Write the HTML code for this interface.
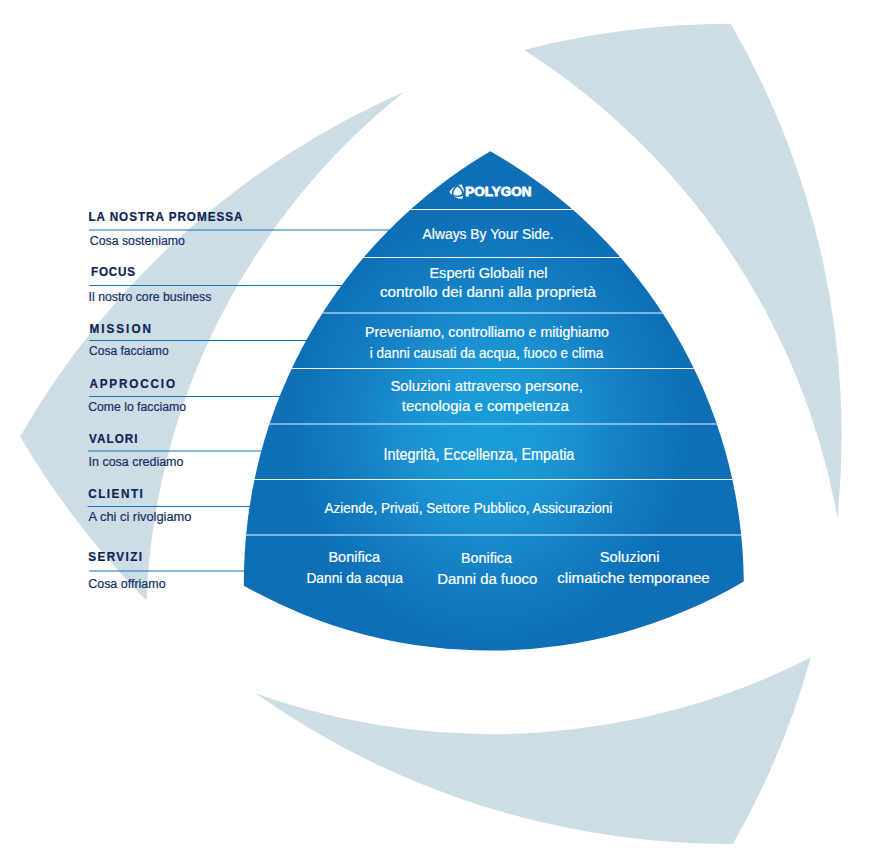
<!DOCTYPE html>
<html><head><meta charset="utf-8">
<style>
html,body{margin:0;padding:0;background:#fff;}
body{width:872px;height:861px;overflow:hidden;position:relative;}
svg{position:absolute;left:0;top:0;}
text{font-family:"Liberation Sans",sans-serif;}
.h{font-weight:bold;fill:#0d2455;stroke:#0d2455;stroke-width:0.25px;font-size:13px;}
.s{fill:#132d65;stroke:#132d65;stroke-width:0.2px;font-size:12.5px;}
.w{fill:#fff;stroke:#fff;stroke-width:0.2px;font-size:15.2px;}
.p{fill:#fff;font-size:12.6px;font-weight:bold;stroke:#fff;stroke-width:0.8px;}
</style></head>
<body>
<svg width="872" height="861" viewBox="0 0 872 861">
<defs>
<radialGradient id="bg" gradientUnits="userSpaceOnUse" cx="490" cy="428" r="200" gradientTransform="translate(490 428) scale(1 1.08) translate(-490 -428)">
<stop offset="0" stop-color="#199dd9"/>
<stop offset="0.25" stop-color="#1a99d7"/>
<stop offset="0.45" stop-color="#1a8fd0"/>
<stop offset="0.62" stop-color="#1683c7"/>
<stop offset="0.8" stop-color="#1279bf"/>
<stop offset="0.92" stop-color="#0f74bb"/>
<stop offset="1" stop-color="#0e6fb6"/>
</radialGradient>
<path id="tripath" d="M490.3,151.3 A499.5,499.5 0 0 1 743.8,581.4 A499.5,499.5 0 0 1 243.9,585.7 A499.5,499.5 0 0 1 490.3,151.3 Z"/>
<clipPath id="tri"><use href="#tripath"/></clipPath>
<g id="sw">
<path d="M524.0,50.0 A821,821 0 0 1 730.7,23.8 A821,821 0 0 1 837.5,518.0 A703.4,703.4 0 0 0 524.0,50.0 Z"/>
<path d="M255.4,693.3 A703.1,703.1 0 0 0 810.8,657.5 A821,821 0 0 1 732.9,844 A821,821 0 0 1 255.4,693.3 Z"/>
<path d="M404.5,91.8 A821,821 0 0 0 20.1,436.4 A821,821 0 0 0 146.5,600.6 A683.4,683.4 0 0 1 404.5,91.8 Z"/>
</g>
</defs>
<g class="gfx">
<use href="#sw" fill="#cddde6"/>
<g stroke="#1a70b6" stroke-width="1.2">
<line x1="89.0" y1="230.0" x2="420" y2="230.0"/>
<line x1="89.3" y1="285.5" x2="420" y2="285.5"/>
<line x1="89.2" y1="340.5" x2="420" y2="340.5"/>
<line x1="89.0" y1="396.5" x2="420" y2="396.5"/>
<line x1="87.9" y1="451.0" x2="420" y2="451.0"/>
<line x1="87.6" y1="506.5" x2="420" y2="506.5"/>
<line x1="89.0" y1="571.0" x2="420" y2="571.0"/>
</g>
<use href="#tripath" fill="url(#bg)"/>
<g clip-path="url(#tri)" stroke="#fff" stroke-opacity="0.92" stroke-width="1.1">
<line x1="200" y1="209.5" x2="800" y2="209.5"/>
<line x1="200" y1="257.5" x2="800" y2="257.5"/>
<line x1="200" y1="313" x2="800" y2="313"/>
<line x1="200" y1="368.5" x2="800" y2="368.5"/>
<line x1="200" y1="424" x2="800" y2="424"/>
<line x1="200" y1="479.5" x2="800" y2="479.5"/>
<line x1="200" y1="535" x2="800" y2="535"/>
</g>
<g class="icon" fill="#fff" transform="translate(457.63 191.87) scale(0.0176) translate(-492.67 -439.47)">
<use href="#sw"/>
<use href="#tripath"/>
</g>
</g>
<text class="h" transform="translate(88.40 220.8) scale(0.9 1)" textLength="171.11" lengthAdjust="spacing">LA NOSTRA PROMESSA</text>
<text class="h" transform="translate(91.00 275.8) scale(0.9 1)" textLength="48.89" lengthAdjust="spacing">FOCUS</text>
<text class="h" transform="translate(89.40 332.8) scale(0.9 1)" textLength="68.44" lengthAdjust="spacing">MISSION</text>
<text class="h" transform="translate(89.40 387.7) scale(0.9 1)" textLength="95.11" lengthAdjust="spacing">APPROCCIO</text>
<text class="h" transform="translate(89.00 442.7) scale(0.9 1)" textLength="54.00" lengthAdjust="spacing">VALORI</text>
<text class="h" transform="translate(88.20 497.7) scale(0.9 1)" textLength="60.67" lengthAdjust="spacing">CLIENTI</text>
<text class="h" transform="translate(88.20 560.8) scale(0.9 1)" textLength="59.78" lengthAdjust="spacing">SERVIZI</text>
<text class="s" x="89.80" y="244.9" textLength="95.00" lengthAdjust="spacingAndGlyphs">Cosa sosteniamo</text>
<text class="s" x="88.60" y="300.5" textLength="122.80" lengthAdjust="spacingAndGlyphs">Il nostro core business</text>
<text class="s" x="89.00" y="354.5" textLength="79.60" lengthAdjust="spacingAndGlyphs">Cosa facciamo</text>
<text class="s" x="88.20" y="410.5" textLength="97.80" lengthAdjust="spacingAndGlyphs">Come lo facciamo</text>
<text class="s" x="88.60" y="465.5" textLength="94.80" lengthAdjust="spacingAndGlyphs">In cosa crediamo</text>
<text class="s" x="88.60" y="520.5" textLength="102.80" lengthAdjust="spacingAndGlyphs">A chi ci rivolgiamo</text>
<text class="s" x="88.20" y="588.3" textLength="77.40" lengthAdjust="spacingAndGlyphs">Cosa offriamo</text>
<text class="w" x="422.60" y="238.5" textLength="131.00" lengthAdjust="spacingAndGlyphs">Always By Your Side.</text>
<text class="w" x="429.40" y="277.8" textLength="118.20" lengthAdjust="spacingAndGlyphs">Esperti Globali nel</text>
<text class="w" x="380.00" y="296.8" textLength="216.00" lengthAdjust="spacingAndGlyphs">controllo dei danni alla proprietà</text>
<text class="w" style="font-size:14.8px" x="365.00" y="336.8" textLength="243.80" lengthAdjust="spacingAndGlyphs">Preveniamo, controlliamo e mitighiamo</text>
<text class="w" x="369.80" y="357.8" textLength="233.60" lengthAdjust="spacingAndGlyphs">i danni causati da acqua, fuoco e clima</text>
<text class="w" x="390.40" y="390.8" textLength="192.40" lengthAdjust="spacingAndGlyphs">Soluzioni attraverso persone,</text>
<text class="w" x="401.80" y="410.8" textLength="167.00" lengthAdjust="spacingAndGlyphs">tecnologia e competenza</text>
<text class="w" style="font-size:16.0px" x="383.40" y="460.0" textLength="191.00" lengthAdjust="spacingAndGlyphs">Integrità, Eccellenza, Empatia</text>
<text class="w" x="324.40" y="512.5" textLength="288.00" lengthAdjust="spacingAndGlyphs">Aziende, Privati, Settore Pubblico, Assicurazioni</text>
<text class="w" x="328.40" y="561.9" textLength="51.60" lengthAdjust="spacingAndGlyphs">Bonifica</text>
<text class="w" x="306.40" y="582.9" textLength="96.40" lengthAdjust="spacingAndGlyphs">Danni da acqua</text>
<text class="w" x="461.00" y="562.5" textLength="51.00" lengthAdjust="spacingAndGlyphs">Bonifica</text>
<text class="w" x="437.20" y="583.5" textLength="100.00" lengthAdjust="spacingAndGlyphs">Danni da fuoco</text>
<text class="w" x="599.80" y="561.9" textLength="59.80" lengthAdjust="spacingAndGlyphs">Soluzioni</text>
<text class="w" x="557.20" y="582.5" textLength="152.60" lengthAdjust="spacingAndGlyphs">climatiche temporanee</text>
<text class="p" x="465.20" y="196.0" textLength="66.20" lengthAdjust="spacingAndGlyphs">POLYGON</text>
</svg>
</body></html>
